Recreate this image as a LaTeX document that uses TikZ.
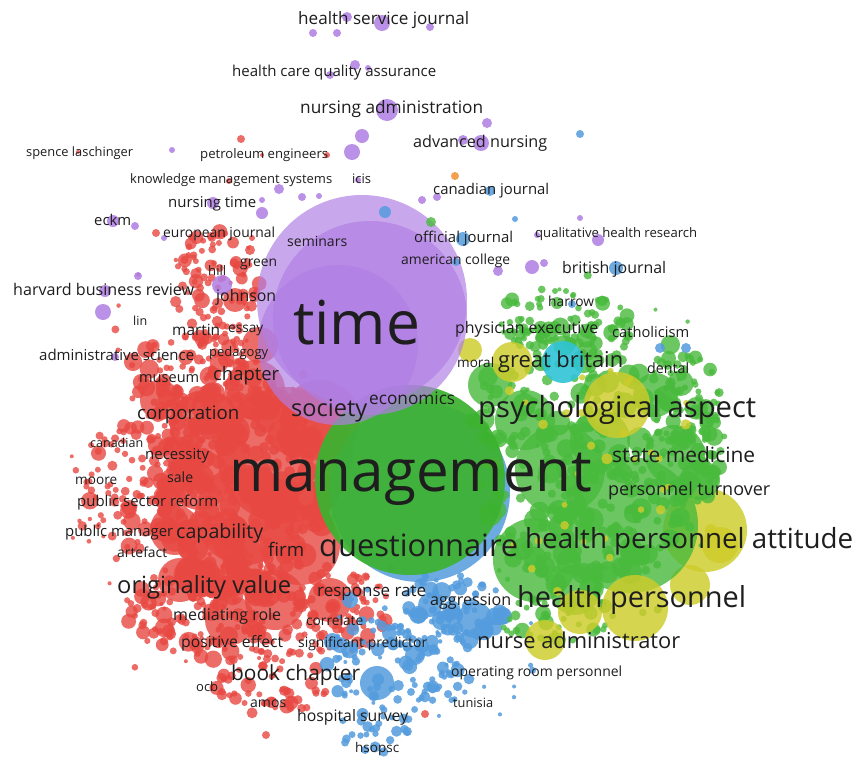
\documentclass[tikz,border=0pt]{standalone}
\usepackage{fontspec}
\setmainfont{Open Sans}
\usepackage{graphicx}
\definecolor{vred}{RGB}{232,72,66}
\definecolor{vgreen}{RGB}{72,186,60}
\definecolor{vgreenD}{RGB}{60,178,48}
\definecolor{vpurple}{RGB}{176,126,228}
\definecolor{vblue}{RGB}{84,156,222}
\definecolor{vyellow}{RGB}{206,204,42}
\definecolor{vcyan}{RGB}{48,196,214}
\definecolor{vorange}{RGB}{242,150,60}
\definecolor{txt}{RGB}{30,30,30}
\tikzset{
  rd/.style={fill=vred,fill opacity=0.8},
  gr/.style={fill=vgreen,fill opacity=0.8},
  grD/.style={fill=vgreenD,fill opacity=0.93},
  pu/.style={fill=vpurple,fill opacity=0.68},
  pud/.style={fill=vpurple,fill opacity=0.85},
  bl/.style={fill=vblue,fill opacity=0.85},
  ye/.style={fill=vyellow,fill opacity=0.82},
  cy/.style={fill=vcyan,fill opacity=0.9},
  orng/.style={fill=vorange,fill opacity=0.9},
  lbl/.style={inner sep=0pt,anchor=west,text=txt}
}
% seed, style, cx, cy, rx, ry, n, rmin, rmax
\newcommand\cloud[9]{%
  \pgfmathsetseed{#1}%
  \foreach \k in {1,...,#7}{%
    \pgfmathsetmacro\ang{360*rnd}%
    \pgfmathsetmacro\dd{sqrt(rnd)}%
    \pgfmathsetmacro\uu{rnd}%
    \pgfmathsetmacro\rad{#8+(#9-#8)*\uu*\uu*\uu}%
    \fill[#2] ({#3+#5*\dd*cos(\ang)},{#4+#6*\dd*sin(\ang)}) circle[radius=\rad pt];
  }}
\newcommand\bubs[2]{\foreach \px/\py/\pr in {#2}{\fill[#1] (\px,\py) circle[radius=\pr pt];}}
\newcommand\lab[5]{\node[lbl] (#1) at (#2,#4) {\resizebox{#3pt}{!}{\smash{#5}\rule{0pt}{1ex}}};}
\begin{document}
\begin{tikzpicture}[x=1pt,y=-1pt]
\useasboundingbox (0,0) rectangle (860,769);
\fill[white] (0,0) rectangle (860,769);
% ---------------- red cluster ----------------
\bubs{rd}{285/455/68, 245/515/50, 300/545/40, 205/425/35, 225/560/38, 275/600/30, 320/420/40, 200/480/30, 255/390/30, 175/530/25, 160/400/20, 230/620/25, 330/600/22, 180/580/22, 260/345/18, 235/300/12}
\cloud{11}{rd}{215}{290}{45}{65}{90}{3}{8}
\cloud{12}{rd}{200}{380}{75}{45}{110}{3}{10}
\cloud{13}{rd}{145}{480}{70}{70}{130}{3}{9}
\cloud{14}{rd}{240}{490}{90}{110}{250}{5}{18}
\cloud{15}{rd}{220}{610}{95}{50}{160}{3}{10}
\cloud{16}{rd}{270}{680}{60}{35}{60}{3}{8}
\cloud{17}{rd}{340}{610}{50}{45}{70}{3}{8}
\cloud{18}{rd}{215}{470}{150}{235}{70}{2}{5}
\bubs{rd}{241/139/4, 78/152/2, 262/155/2, 327/155/3, 229/181/3, 156/233/4, 220/234/4, 252/238/3, 266/735/4, 425/714/4, 236/262/6, 250/250/5}
% ---------------- blue cluster ----------------
\bubs{bl}{420/492/90}
\cloud{21}{bl}{400}{665}{75}{55}{110}{3}{9}
\cloud{22}{bl}{455}{610}{55}{35}{60}{3}{10}
\cloud{23}{bl}{375}{730}{35}{25}{25}{3}{6}
\cloud{24}{bl}{430}{650}{110}{90}{40}{2}{5}
\bubs{bl}{377/683/17, 415/655/10, 475/620/18, 430/605/12, 340/645/8, 350/600/8}
% ---------------- green / yellow cluster ----------------
\bubs{ye}{705/530/42, 690/585/20, 720/545/18}
\bubs{gr}{630/525/68, 560/470/45, 535/560/42, 600/440/30, 675/455/30, 525/420/30, 490/385/22, 655/395/22, 700/480/20, 575/590/25}
\cloud{31}{gr}{590}{450}{125}{140}{320}{4}{13}
\cloud{32}{gr}{560}{320}{70}{30}{60}{3}{8}
\cloud{33}{gr}{690}{430}{35}{80}{70}{3}{8}
\cloud{34}{gr}{560}{620}{60}{25}{40}{3}{8}
\cloud{35}{gr}{590}{450}{150}{180}{50}{2}{5}
\bubs{ye}{617/405/33, 635/608/33, 512/362/20, 580/612/22, 545/640/20, 470/350/12}
\cloud{36}{ye}{600}{480}{120}{140}{35}{3}{7}
\bubs{cy}{563/362/21}
\bubs{bl}{686/348/5, 572/304/4, 660/348/5}
% ---------------- management circle ----------------
\bubs{grD}{410/480/95}
% ---------------- purple cluster ----------------
\bubs{pu}{362/300/105, 370/318/97, 338/345/80}
\bubs{pud}{313/33/4, 337/33/4, 382/23/8, 347/17/5, 430/27/4, 355/65/5, 368/68/3, 330/75/4, 387/110/11, 487/123/5, 481/143/8, 463/140/5, 362/136/7, 352/152/8, 172/150/3, 437/197/4, 279/189/5, 302/197/4, 319/196/3, 262/200/3, 262/213/6, 213/203/6, 358/180/3, 113/221/6, 135/226/4, 164/238/3, 422/200/4, 580/218/3, 598/240/6, 537/235/3, 498/271/5, 532/267/7, 544/263/4, 103/312/8, 105/291/6, 138/276/4, 222/285/10, 115/357/4}
\bubs{bl}{580/134/4, 490/191/5, 385/212/6, 515/219/3, 463/239/7, 456/262/4, 616/268/7}
\bubs{orng}{455/176/4}
\bubs{gr}{431/222/5, 566/291/3, 557/303/6}
% ---------------- labels ----------------
\lab{l1}{298}{171}{20}{health service journal}
\lab{l2}{232}{204}{72}{health care quality assurance}
\lab{l3}{300}{183}{109}{nursing administration}
\lab{l4}{413}{134}{143}{advanced nursing}
\lab{l5}{26}{107}{153}{spence laschinger}
\lab{l6}{200}{128}{155}{petroleum engineers}
\lab{l7}{130}{202}{180}{knowledge management systems}
\lab{l8}{352}{19}{180}{icis}
\lab{l9}{433}{116}{191}{canadian journal}
\lab{l10}{168}{88}{203}{nursing time}
\lab{l11}{94}{37}{222}{eckm}
\lab{l12}{163}{112}{234}{european journal}
\lab{l13}{287}{60}{243}{seminars}
\lab{l14}{414}{99}{239}{official journal}
\lab{l15}{535}{162}{234}{qualitative health research}
\lab{l16}{401}{109}{261}{american college}
\lab{l17}{562}{104}{269}{british journal}
\lab{l18}{208}{18}{272}{hill}
\lab{l19}{240}{37}{263}{green}
\lab{l20}{13}{181}{291}{harvard business review}
\lab{l21}{216}{60}{297}{johnson}
\lab{l22}{548}{46}{303}{harrow}
\lab{l23}{293}{127}{328}{time}
\lab{l24}{133}{14}{322}{lin}
\lab{l25}{172}{48}{331}{martin}
\lab{l26}{228}{35}{329}{essay}
\lab{l27}{455}{143}{329}{physician executive}
\lab{l28}{612}{77}{334}{catholicism}
\lab{l29}{39}{155}{356}{administrative science}
\lab{l30}{209}{59}{353}{pedagogy}
\lab{l31}{457}{37}{364}{moral}
\lab{l32}{498}{125}{362}{great britain}
\lab{l33}{647}{42}{370}{dental}
\lab{l34}{139}{60}{379}{museum}
\lab{l35}{213}{66}{376}{chapter}
\lab{l36}{291}{76}{410}{society}
\lab{l37}{369}{86}{400}{economics}
\lab{l38}{478}{278}{410}{psychological aspect}
\lab{l39}{137}{102}{415}{corporation}
\lab{l40}{90}{53}{444}{canadian}
\lab{l41}{145}{64}{455}{necessity}
\lab{l42}{229}{363}{476}{management}
\lab{l43}{612}{143}{457}{state medicine}
\lab{l44}{75}{42}{481}{moore}
\lab{l45}{167}{26}{479}{sale}
\lab{l46}{608}{162}{491}{personnel turnover}
\lab{l47}{77}{141}{502}{public sector reform}
\lab{l48}{65}{108}{533}{public manager}
\lab{l49}{176}{87}{533}{capability}
\lab{l50}{525}{328}{541}{health personnel attitude}
\lab{l51}{319}{199}{548}{questionnaire}
\lab{l52}{117}{50}{554}{artefact}
\lab{l53}{268}{36}{552}{firm}
\lab{l54}{117}{174}{587}{originality value}
\lab{l55}{317}{109}{592}{response rate}
\lab{l56}{430}{81}{601}{aggression}
\lab{l57}{517}{229}{600}{health personnel}
\lab{l58}{173}{108}{616}{mediating role}
\lab{l59}{306}{57}{622}{correlate}
\lab{l60}{181}{102}{643}{positive effect}
\lab{l61}{298}{129}{644}{significant predictor}
\lab{l62}{477}{203}{643}{nurse administrator}
\lab{l63}{451}{171}{673}{operating room personnel}
\lab{l64}{231}{129}{675}{book chapter}
\lab{l65}{196}{22}{688}{ocb}
\lab{l66}{250}{36}{704}{amos}
\lab{l67}{453}{40}{704}{tunisia}
\lab{l68}{297}{111}{717}{hospital survey}
\lab{l69}{355}{44}{749}{hsopsc}
\end{tikzpicture}
\end{document}
